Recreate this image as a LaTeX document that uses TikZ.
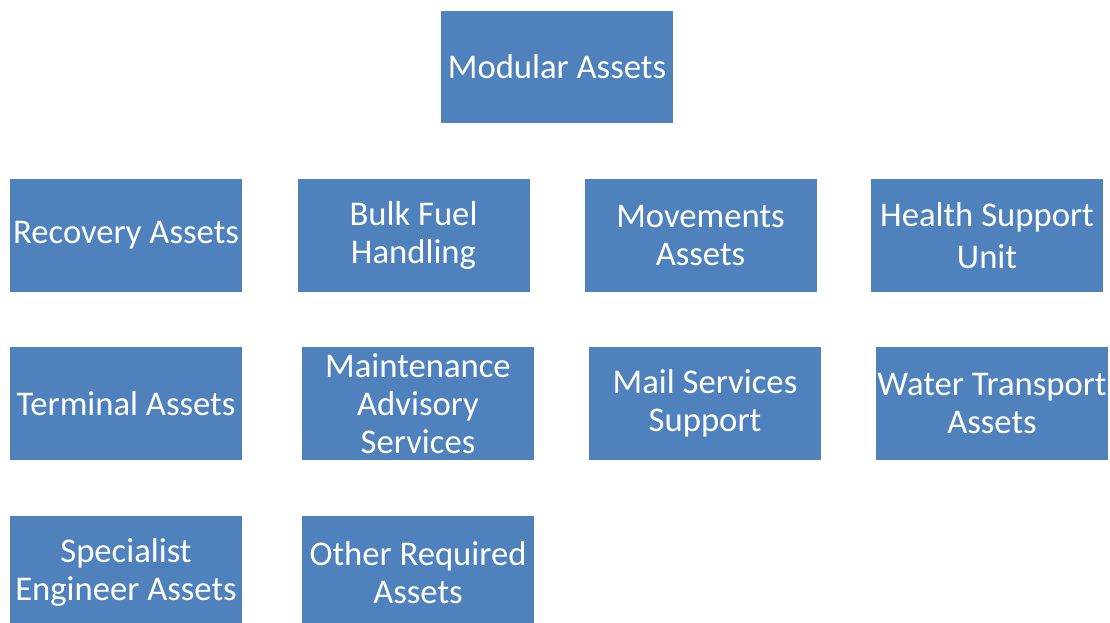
\documentclass[tikz,border=0pt]{standalone}
\usepackage{fontspec}
\setmainfont{Carlito}
\definecolor{boxblue}{HTML}{4F81BD}
\begin{document}
\begin{tikzpicture}[x=0.75pt,y=-0.75pt,
  box/.style={rectangle, fill=boxblue, text=white, inner sep=0pt,
    minimum width=174pt, minimum height=84.75pt, align=center,
    font=\fontsize{26}{28.5}\selectfont}]
\useasboundingbox (0,0) rectangle (1110,623);
\node[box, minimum height=84pt] (mod) at (557,67) {Modular Assets};
\node[box] (rec) at (126,235.5) {Recovery Assets};
\node[box] (bulk) at (413.5,235.5) {Bulk Fuel\\Handling};
\node[box] (mov) at (700.5,235.5) {Movements\\Assets};
\node[box] (health) at (987,235.5) {Health Support\\[3pt]Unit};
\node[box] (term) at (126,403.5) {Terminal Assets};
\node[box] (maint) at (418,403.5) {Maintenance\\Advisory\\Services};
\node[box] (mail) at (705,403.5) {Mail Services\\Support};
\node[box] (water) at (992,403.5) {Water Transport\\Assets};
\node[box] (spec) at (126,572.5) {Specialist\\Engineer Assets};
\node[box] (other) at (418,572.5) {Other Required\\Assets};
\end{tikzpicture}
\end{document}
